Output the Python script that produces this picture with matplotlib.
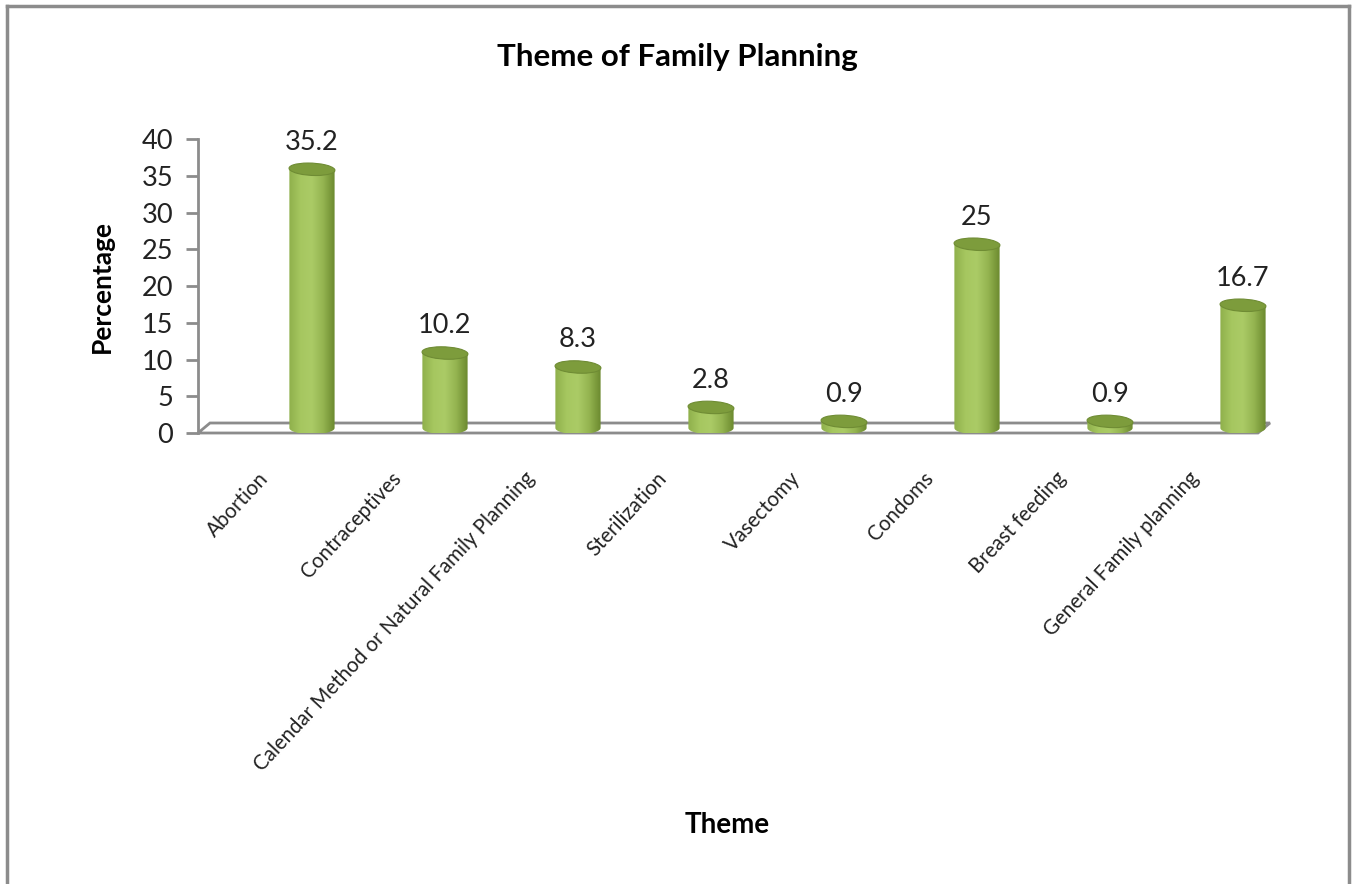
import numpy as np
import matplotlib
matplotlib.use("Agg")
from matplotlib import pyplot as plt
from matplotlib.patches import Ellipse, Polygon, PathPatch
from matplotlib.path import Path
from matplotlib.colors import LinearSegmentedColormap
from matplotlib.lines import Line2D

plt.rcParams['font.family'] = ['Lato', 'DejaVu Sans']

# datos
temas = ["Abortion", "Contraceptives", "Calendar Method or Natural Family Planning",
         "Sterilization", "Vasectomy", "Condoms", "Breast feeding",
         "General Family planning"]
porcentajes = [35.2, 10.2, 8.3, 2.8, 0.9, 25, 0.9, 16.7]
etiquetas = ["35.2", "10.2", "8.3", "2.8", "0.9", "25", "0.9", "16.7"]
yticks = [0, 5, 10, 15, 20, 25, 30, 35, 40]

gris = "#8c8c8c"
verde_cmap = LinearSegmentedColormap.from_list(
    "cil", ["#8fb04c", "#a6c760", "#abcb66", "#94b450", "#6c8a2f"])


def cilindro(ax, x, v, ancho, prof, eh):
    # cuerpo del cilindro: rectangulo + media elipse abajo, con degradado
    base = prof / 2
    top = v + base
    t = np.linspace(np.pi, 2 * np.pi, 40)
    xs = x + ancho / 2 * np.cos(t)
    ys = base + eh / 2 * np.sin(t)
    verts = [(x - ancho / 2, top)] + list(zip(xs, ys)) + [(x + ancho / 2, top), (x - ancho / 2, top)]
    codes = [Path.MOVETO] + [Path.LINETO] * (len(verts) - 2) + [Path.CLOSEPOLY]
    clip = PathPatch(Path(verts, codes), facecolor="none", edgecolor="none")
    ax.add_patch(clip)
    grad = np.linspace(0, 1, 64).reshape(1, -1)
    im = ax.imshow(grad, cmap=verde_cmap, aspect="auto",
                   extent=(x - ancho / 2, x + ancho / 2, base - eh / 2, top),
                   zorder=3, interpolation="bilinear")
    im.set_clip_path(clip)
    # tapa
    tapa = Ellipse((x, top), ancho, eh, angle=2, facecolor="#7d9c3c",
                   edgecolor="#6f8c34", lw=0.8, zorder=4)
    ax.add_patch(tapa)
    return top


def main():
    fig = plt.figure(figsize=(13.57, 8.84), dpi=100)
    ax = fig.add_axes([198 / 1357, 1 - 433 / 884, (1273 - 198) / 1357, (433 - 139) / 884])

    n = len(temas)
    xpos = np.arange(n)
    ax.set_xlim(-0.857, n - 1 + 30 / 133)
    ax.set_ylim(0, 40)

    # piso 3D
    prof = 10 / 7.35
    dx = 12 / 133
    x0, x1 = -0.857, n - 1 + 15 / 133
    piso = Polygon([(x0, 0), (x1, 0), (x1 + dx, prof), (x0 + dx, prof)],
                   closed=True, facecolor="white", edgecolor=gris, lw=2, zorder=1,
                   clip_on=False)
    ax.add_patch(piso)

    for x, v, lab in zip(xpos, porcentajes, etiquetas):
        top = cilindro(ax, x, v, 0.34, prof, 1.7)
        ax.text(x, top + 2.0, lab, ha="center", va="bottom", fontsize=19.5,
                color="#222222", zorder=5)

    for x, t in zip(xpos, temas):
        ax.text(x - 0.41, -4.8, t, rotation=47, ha="right", va="top",
                rotation_mode="anchor", fontsize=14.8, color="#222222", clip_on=False)

    # ejes
    for s in ["top", "right", "bottom"]:
        ax.spines[s].set_visible(False)
    ax.spines["left"].set_color(gris)
    ax.spines["left"].set_linewidth(2)
    ax.set_xticks([])
    ax.set_yticks(yticks)
    ax.tick_params(axis="y", length=9, width=2, color=gris, labelsize=19.5,
                   labelcolor="#222222", pad=9)

    ax.set_ylabel("Percentage", fontsize=19, fontweight="bold", labelpad=20)
    fig.text(727 / 1357, 1 - 825 / 884, "Theme", ha="center", va="center",
             fontsize=20, fontweight="bold")
    fig.text(677 / 1357, 1 - 57 / 884, "Theme of Family Planning", ha="center",
             va="center", fontsize=22.5, fontweight="bold")

    # marco exterior
    fig.add_artist(Line2D([7 / 1357, 7 / 1357], [0, 1 - 6 / 884], color=gris, lw=2.5))
    fig.add_artist(Line2D([7 / 1357, 1349 / 1357], [1 - 6 / 884, 1 - 6 / 884], color=gris, lw=2.5))
    fig.add_artist(Line2D([1349 / 1357, 1349 / 1357], [0, 1 - 6 / 884], color=gris, lw=2.5))

    fig.savefig("out.png", dpi=100)


if __name__ == "__main__":
    main()
